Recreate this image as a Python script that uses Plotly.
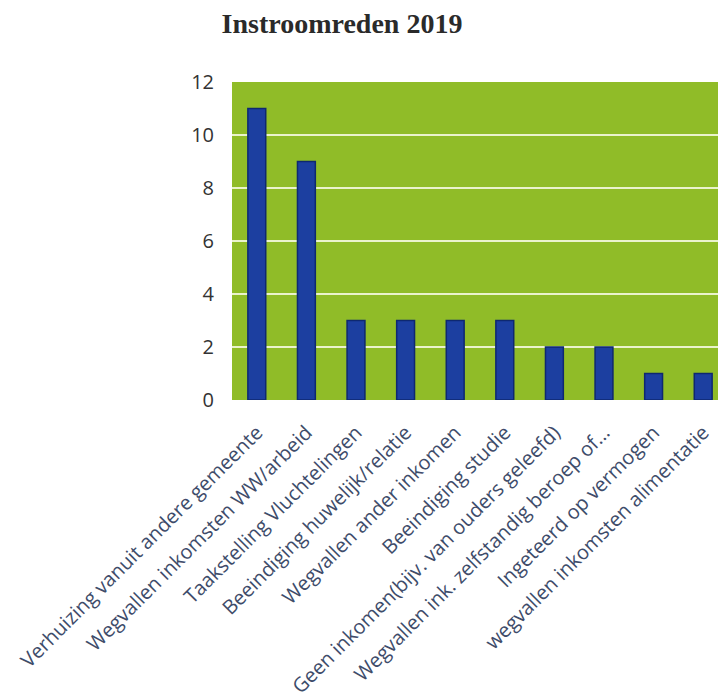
import plotly.graph_objects as go

categories = [
    "Verhuizing vanuit andere gemeente",
    "Wegvallen inkomsten WW/arbeid",
    "Taakstelling Vluchtelingen",
    "Beeindiging huwelijk/relatie",
    "Wegvallen ander inkomen",
    "Beeindiging studie",
    "Geen inkomen(bijv. van ouders geleefd)",
    "Wegvallen ink. zelfstandig beroep of...",
    "Ingeteerd op vermogen",
    "wegvallen inkomsten alimentatie",
]
values = [11, 9, 3, 3, 3, 3, 2, 2, 1, 1]
y_ticks = [0, 2, 4, 6, 8, 10, 12]

fig = go.Figure(
    go.Bar(
        x=categories,
        y=values,
        width=0.36,
        marker=dict(color="#1C3FA0", line=dict(color="#0E2870", width=1.5)),
    )
)

fig.update_layout(
    width=726,
    height=699,
    paper_bgcolor="white",
    plot_bgcolor="#90BC28",
    margin=dict(l=224, r=6, t=74, b=307),
    showlegend=False,
    title=dict(
        text="<b>Instroomreden 2019</b>",
        x=334 / 726,
        xref="container",
        xanchor="center",
        y=1 - 15 / 699,
        yref="container",
        yanchor="middle",
        font=dict(family="Liberation Serif", size=28, color="#2a2a2a"),
    ),
)

fig.update_yaxes(
    range=[0, 12],
    tickvals=y_ticks,
    showgrid=True,
    gridcolor="#EAF3CC",
    gridwidth=2,
    zeroline=False,
    showline=False,
    ticklabelstandoff=17,
    tickfont=dict(family="Open Sans", size=20, color="#333333"),
)

fig.update_xaxes(
    tickangle=-45,
    showgrid=False,
    showline=False,
    ticklabelstandoff=16,
    tickfont=dict(family="Open Sans", size=20, color="#3E4C6A"),
)

fig.write_html("out.html")
